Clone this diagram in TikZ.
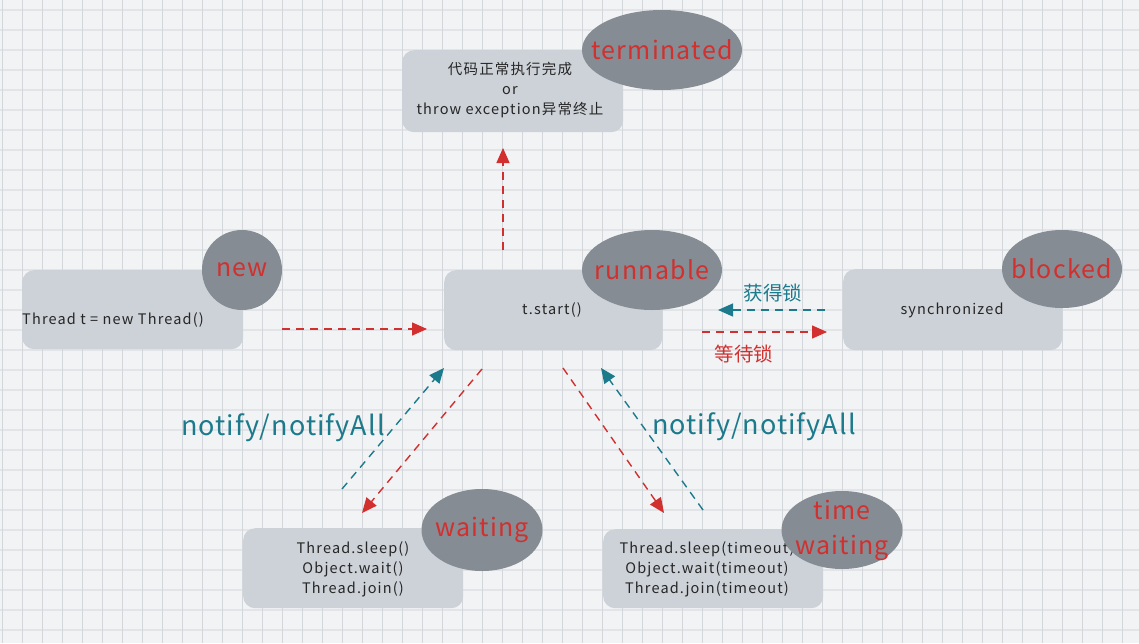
\documentclass[tikz,border=0pt]{standalone}
\usepackage{fontspec}
\setmainfont{Noto Sans CJK SC}
\usetikzlibrary{arrows.meta,shapes.geometric}
\definecolor{bg}{HTML}{F2F3F5}
\definecolor{gridv}{HTML}{D3D6DA}
\definecolor{gridh}{HTML}{E2E4E7}
\definecolor{boxfill}{HTML}{CDD2D8}
\definecolor{ellfill}{HTML}{868C93}
\definecolor{myred}{HTML}{D1302F}
\definecolor{myteal}{HTML}{1B7A8B}
\begin{document}
\begin{tikzpicture}[x=1pt,y=-1pt,
  statebox/.style={fill=boxfill, rounded corners=12pt, draw=none, inner sep=0pt, anchor=north west},
  tagshape/.style={ellipse, fill=ellfill, inner sep=0pt},
  tagtext/.style={text=myred, inner sep=0pt, align=center, font=\fontsize{25}{35}\selectfont\addfontfeature{LetterSpace=5}},
  body/.style={font=\fontsize{14.5}{20}\selectfont\addfontfeature{LetterSpace=8}, text=black!85, align=center, inner sep=0pt},
  redarrow/.style={draw=myred, line width=1.4pt, dash pattern=on 8pt off 6pt, -{Triangle[length=15pt,width=13pt]}},
  tealarrow/.style={draw=myteal, line width=1.4pt, dash pattern=on 8pt off 6pt, -{Triangle[length=15pt,width=13pt]}},
  redlbl/.style={text=myred, font=\fontsize{19.5}{21}\selectfont, inner sep=0pt},
  teallbl/.style={text=myteal, font=\fontsize{19.5}{21}\selectfont, inner sep=0pt},
  notelbl/.style={text=myteal, font=\fontsize{27}{29}\selectfont\addfontfeature{LetterSpace=4}, inner sep=0pt}
]
\fill[bg] (0,0) rectangle (1139,643);
\useasboundingbox (0,0) rectangle (1139,643);
\foreach \y in {10,30,...,643} \draw[gridh, line width=1.3pt] (0,\y) -- (1139,\y);
\foreach \x in {2.5,22.5,...,1139} \draw[gridv, line width=0.8pt] (\x,0) -- (\x,643);

% boxes
\node[statebox, minimum width=221pt, minimum height=82pt] (termbox) at (402,50) {};
\node[statebox, minimum width=221pt, minimum height=79pt] (newbox) at (22,270) {};
\node[statebox, minimum width=218pt, minimum height=80pt] (runbox) at (444,270) {};
\node[statebox, minimum width=219pt, minimum height=81pt] (blockbox) at (843,269) {};
\node[statebox, minimum width=220pt, minimum height=80pt] (waitbox) at (243,528) {};
\node[statebox, minimum width=220pt, minimum height=79pt] (twaitbox) at (603,529) {};

% box texts
\node[body] (termtxt) at (510,90) {代码正常执行完成\\or\\throw exception异常终止};
\node[body, anchor=west] (newtxt) at (22,320) {Thread t = new Thread()};
\node[body] (runtxt) at (552,310) {t.start()};
\node[body] (blocktxt) at (952,310) {synchronized};
\node[body] (waittxt) at (353,569) {Thread.sleep()\\Object.wait()\\Thread.join()};
\node[body] (twaittxt) at (707,569) {Thread.sleep(timeout)\\Object.wait(timeout)\\Thread.join(timeout)};

% tags
\node[tagshape, minimum width=160pt, minimum height=80pt] (termtag) at (662,50) {};
\node[tagshape, minimum width=80pt, minimum height=80pt] (newtag) at (242,270) {};
\node[tagshape, minimum width=140pt, minimum height=80pt] (runtag) at (652,270) {};
\node[tagshape, minimum width=120pt, minimum height=78pt] (blocktag) at (1062,269) {};
\node[tagshape, minimum width=121pt, minimum height=82pt] (waittag) at (482,530) {};
\node[tagshape, minimum width=121pt, minimum height=78pt] (twaittag) at (842,530) {};
\node[tagtext] (termlbl) at (termtag.center) {terminated};
\node[tagtext] (newlbl) at (newtag.center) {new};
\node[tagtext] (runlbl) at (runtag.center) {runnable};
\node[tagtext] (blocklbl) at (blocktag.center) {blocked};
\node[tagtext] (waitlbl) at (waittag.center) {waiting};
\node[tagtext] (twaitlbl) at (twaittag.center) {time\\waiting};

% connector end points
\coordinate (t1) at (503,250);
\coordinate (t2) at (503,148);
\coordinate (n1) at (282,329);
\coordinate (n2) at (427,329);
\coordinate (b1) at (825,310);
\coordinate (b2) at (718,310);
\coordinate (r1) at (702,332);
\coordinate (r2) at (827,332);
\coordinate (w1) at (342,489);
\coordinate (w2) at (444,368);
\coordinate (w3) at (482,369);
\coordinate (w4) at (362,513);
\coordinate (s1) at (703,510);
\coordinate (s2) at (601,368);
\coordinate (s3) at (563,368);
\coordinate (s4) at (664,513);

\draw[redarrow] (t1) -- (t2);
\draw[redarrow] (n1) -- (n2);
\draw[tealarrow] (b1) -- (b2);
\draw[redarrow] (r1) -- (r2);
\draw[tealarrow] (w1) -- (w2);
\draw[redarrow] (w3) -- (w4);
\draw[tealarrow] (s1) -- (s2);
\draw[redarrow] (s3) -- (s4);

% labels
\node[teallbl] (lget) at (773,293) {获得锁};
\node[redlbl] (lwait) at (744,354) {等待锁};
\node[notelbl] (lnl) at (283,428) {notify/notifyAll};
\node[notelbl] (lnr) at (754,427) {notify/notifyAll};
\end{tikzpicture}
\end{document}
